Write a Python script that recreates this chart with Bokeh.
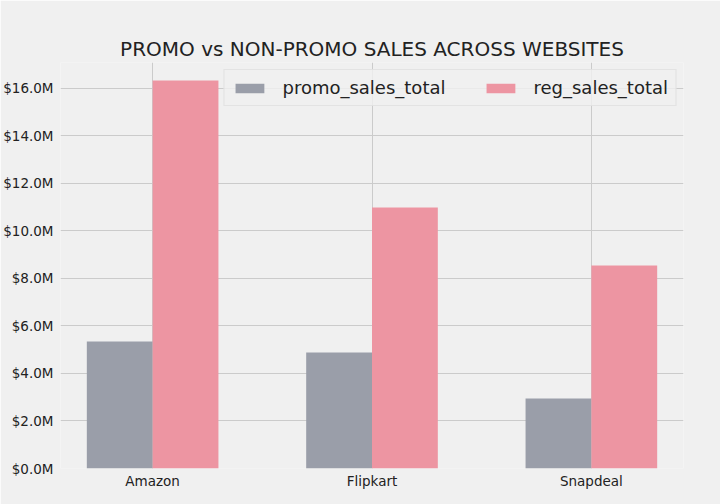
from bokeh.plotting import figure
from bokeh.models import ColumnDataSource, Range1d, FixedTicker, CustomJSTickFormatter, Legend, LegendItem
from bokeh.transform import dodge
from bokeh.embed import file_html
from bokeh.resources import INLINE

websites = ["Amazon", "Flipkart", "Snapdeal"]
promo_sales_total = [5.35e6, 4.88e6, 2.95e6]
reg_sales_total = [16.33e6, 10.99e6, 8.55e6]
y_ticks = [0, 2e6, 4e6, 6e6, 8e6, 10e6, 12e6, 14e6, 16e6]

xpos = list(range(len(websites)))
src = ColumnDataSource(dict(x=xpos, promo=promo_sales_total, reg=reg_sales_total))

BG = "#f0f0f0"
p = figure(width=720, height=504, output_backend="svg", toolbar_location=None,
           x_range=Range1d(-0.42, 2.42), y_range=Range1d(0, 17.09e6),
           background_fill_color=BG, border_fill_color=BG,
           min_border_left=60, min_border_right=37, min_border_bottom=36, min_border_top=62)

p.title.text = "PROMO vs NON-PROMO SALES ACROSS WEBSITES"
p.title.align = "center"
p.title.text_font = "DejaVu Sans"
p.title.text_font_size = "20px"
p.title.text_font_style = "normal"
p.title.text_color = "#222222"
p.title.standoff = 4

r1 = p.vbar(x=dodge("x", -0.15), top="promo", width=0.3, source=src,
            fill_color="#9a9ea9", line_color=None)
r2 = p.vbar(x=dodge("x", 0.15), top="reg", width=0.3, source=src,
            fill_color="#ed95a2", line_color=None)

p.xaxis.ticker = FixedTicker(ticks=xpos)
p.xaxis.major_label_overrides = {i: w for i, w in zip(xpos, websites)}
p.yaxis.ticker = FixedTicker(ticks=y_ticks)
p.yaxis.formatter = CustomJSTickFormatter(code="return '$' + (tick/1e6).toFixed(1) + 'M';")

for ax in (p.xaxis, p.yaxis):
    ax.axis_line_color = None
    ax.major_tick_line_color = None
    ax.minor_tick_line_color = None
    ax.major_tick_out = 0
    ax.major_tick_in = 0
    ax.minor_tick_out = 0
    ax.minor_tick_in = 0
    ax.major_label_text_font = "DejaVu Sans"
    ax.major_label_text_font_size = "13.5px"
    ax.major_label_text_color = "#222222"
p.yaxis.major_label_standoff = 7
p.xaxis.major_label_standoff = 4

p.xgrid.ticker = FixedTicker(ticks=xpos)
p.ygrid.ticker = FixedTicker(ticks=y_ticks)
p.grid.grid_line_color = "#cbcbcb"
p.grid.grid_line_width = 1
p.outline_line_color = None

legend = Legend(items=[LegendItem(label="promo_sales_total", renderers=[r1]),
                       LegendItem(label="reg_sales_total", renderers=[r2])],
                orientation="horizontal", location="top_right")
legend.label_text_font = "DejaVu Sans"
legend.label_text_font_size = "18px"
legend.label_text_color = "#222222"
legend.glyph_width = 36
legend.glyph_height = 12
legend.label_standoff = 15
legend.spacing = 37
legend.padding = 7
legend.margin = 7
legend.background_fill_color = BG
legend.background_fill_alpha = 0.8
legend.border_line_color = "#d6d6d6"
p.add_layout(legend)

open("out.html", "w").write(file_html(p, INLINE))
